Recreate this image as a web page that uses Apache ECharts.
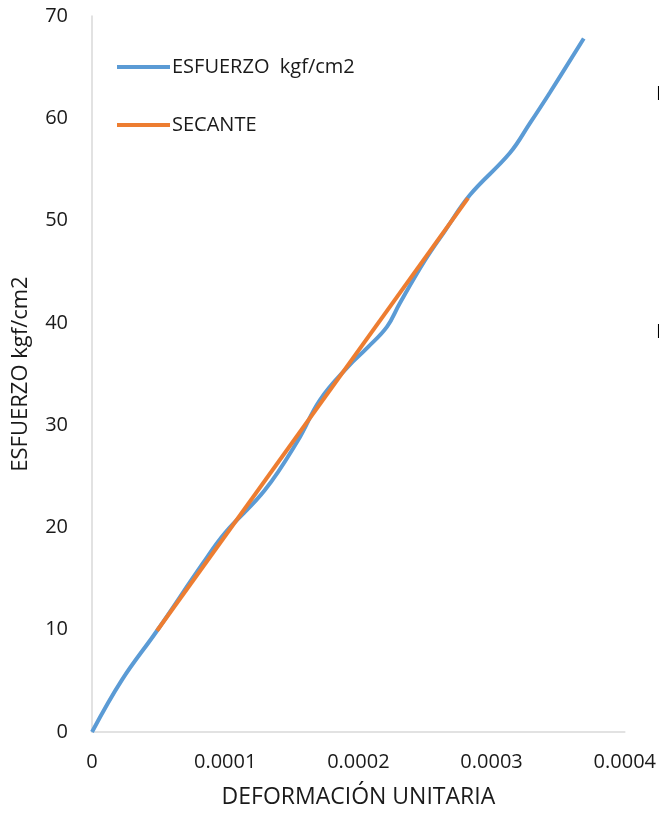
<!DOCTYPE html>
<html>
<head>
<meta charset="utf-8">
<script src="https://cdn.jsdelivr.net/npm/echarts@6/dist/echarts.min.js"></script>
<style>
  html, body { margin: 0; padding: 0; background: #fff; }
  #chart { width: 659px; height: 814px; }
</style>
</head>
<body>
<div id="chart"></div>
<script>
// strain (x) / stress kgf/cm2 (y)
const strain = [0, 0.0000225, 0.0000488, 0.0000833, 0.0000998, 0.0001298, 0.0001546, 0.0001711,
  0.0001921, 0.000207, 0.0002214, 0.000231, 0.0002499, 0.000265, 0.0002837, 0.0003137, 0.0003287, 0.0003437, 0.0003692]
const stress = [0, 5.1, 9.9, 16.5, 19.45, 23.65, 28.5, 32.45, 35.7, 37.6, 39.6, 41.9, 46.1, 49.0, 52.5, 56.6, 59.5, 62.5, 67.8]

const secantStrain = [0.0000488, 0.0002823]
const secantStress = [9.9, 52.2]

const xTicks = ['0', '0.0001', '0.0002', '0.0003', '0.0004']

const fontFamily = '"Open Sans", "Noto Sans", sans-serif'
const textColor = '#1a1a1a'

const chart = echarts.init(document.getElementById('chart'))

chart.setOption({
  animation: false,
  grid: { left: 92, right: 34, top: 16, bottom: 82 },
  legend: {
    orient: 'vertical',
    left: 117,
    top: 57,
    padding: 0,
    icon: 'rect',
    itemWidth: 53,
    itemHeight: 4,
    itemGap: 38,
    textStyle: { fontFamily, fontSize: 20, color: textColor, padding: [0, 0, 0, -3] },
    data: ['ESFUERZO  kgf/cm2', 'SECANTE'],
  },
  xAxis: {
    type: 'value',
    min: 0,
    max: 0.0004,
    interval: 0.0001,
    name: 'DEFORMACIÓN UNITARIA',
    nameLocation: 'middle',
    nameGap: 54,
    nameTextStyle: { fontFamily, fontSize: 23, color: textColor },
    axisLine: { lineStyle: { color: '#d9d9d9', width: 1.5 } },
    axisTick: { show: false },
    splitLine: { show: false },
    axisLabel: {
      fontFamily, fontSize: 20, color: textColor, margin: 20,
      formatter: (v) => xTicks[Math.round(v / 0.0001)],
    },
  },
  yAxis: {
    type: 'value',
    min: 0,
    max: 70,
    interval: 10,
    name: 'ESFUERZO kgf/cm2',
    nameLocation: 'middle',
    nameRotate: 90,
    nameGap: 60,
    nameTextStyle: { fontFamily, fontSize: 22, color: textColor },
    axisLine: { show: true, lineStyle: { color: '#d9d9d9', width: 1.5 } },
    axisTick: { show: false },
    splitLine: { show: false },
    axisLabel: { fontFamily, fontSize: 20, color: textColor, margin: 24 },
  },
  graphic: [
    { type: 'text', left: 656, top: 84, style: { text: 'E', fontFamily, fontSize: 20, fill: '#000' } },
    { type: 'text', left: 656, top: 322, style: { text: 'E', fontFamily, fontSize: 20, fill: '#000' } },
  ],
  series: [
    {
      name: 'ESFUERZO  kgf/cm2',
      type: 'line',
      smooth: 0.4,
      symbol: 'none',
      lineStyle: { width: 4, color: '#5b9bd5' },
      itemStyle: { color: '#5b9bd5' },
      data: strain.map((x, i) => [x, stress[i]]),
      z: 2,
    },
    {
      name: 'SECANTE',
      type: 'line',
      symbol: 'none',
      lineStyle: { width: 4, color: '#ed7d31' },
      itemStyle: { color: '#ed7d31' },
      data: secantStrain.map((x, i) => [x, secantStress[i]]),
      z: 3,
    },
  ],
})
</script>
</body>
</html>
